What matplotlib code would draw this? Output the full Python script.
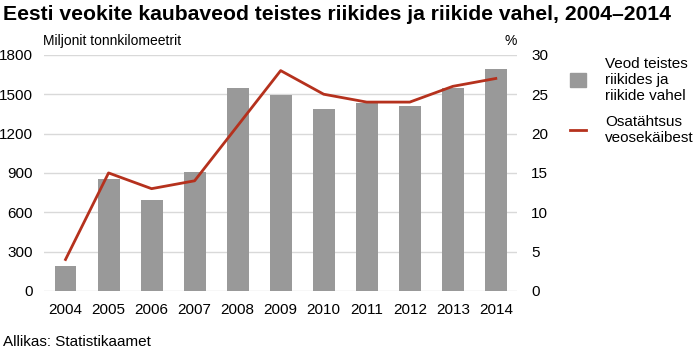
import numpy as np
import matplotlib.pyplot as plt
from matplotlib.patches import Patch
from matplotlib.lines import Line2D

plt.rcParams['font.family'] = ['Liberation Sans', 'DejaVu Sans']

years = ['2004', '2005', '2006', '2007', '2008', '2009', '2010', '2011', '2012', '2013', '2014']
veod = [190, 850, 695, 910, 1550, 1492, 1386, 1436, 1411, 1545, 1690]
osa = [4, 15, 13, 14, 21, 28, 25, 24, 24, 26, 27]

bar_col = '#999999'
line_col = '#b5311d'

fig = plt.figure(figsize=(6.93, 3.54), dpi=100)
ax = fig.add_axes([0.0635, 0.178, 0.683, 0.667])
x = np.arange(len(years))
ax.bar(x, veod, width=0.51, color=bar_col, zorder=2)
ax.set_ylim(0, 1800)
ax.set_yticks(range(0, 1801, 300))
ax.set_xlim(-0.5, len(years) - 0.5)
ax.set_xticks(x)
ax.set_xticklabels(years)
ax.grid(axis='y', color='#d9d9d9', lw=1, zorder=0)
for s in ax.spines.values():
    s.set_visible(False)
ax.tick_params(length=0, labelsize=11)
ax.tick_params(axis='y', pad=8)
ax.tick_params(axis='x', pad=9)

ax2 = ax.twinx()
ax2.plot(x, osa, color=line_col, lw=2, zorder=3)
ax2.set_ylim(0, 30)
ax2.set_yticks(range(0, 31, 5))
for s in ax2.spines.values():
    s.set_visible(False)
ax2.tick_params(length=0, labelsize=11, pad=10)

fig.text(0.004, 0.96, 'Eesti veokite kaubaveod teistes riikides ja riikide vahel, 2004\u20132014',
         fontsize=15.2, fontweight='bold', va='center')
fig.text(0.062, 0.885, 'Miljonit tonnkilomeetrit', fontsize=10, va='center')
fig.text(0.737, 0.885, '%', fontsize=10, va='center', ha='center')
fig.text(0.004, 0.035, 'Allikas: Statistikaamet', fontsize=11, va='center')

handles = [Patch(color=bar_col), Line2D([0], [0], color=line_col, lw=2)]
labels = ['Veod teistes\nriikides ja\nriikide vahel', 'Osat\u00e4htsus\nveosek\u00e4ibest']
fig.legend(handles, labels, loc='upper left', bbox_to_anchor=(0.822, 0.84), frameon=False,
           fontsize=11, handlelength=1.1, handleheight=1.1, labelspacing=0.8, handletextpad=1.2,
           borderaxespad=0, borderpad=0)

fig.savefig('out.png', dpi=100)
